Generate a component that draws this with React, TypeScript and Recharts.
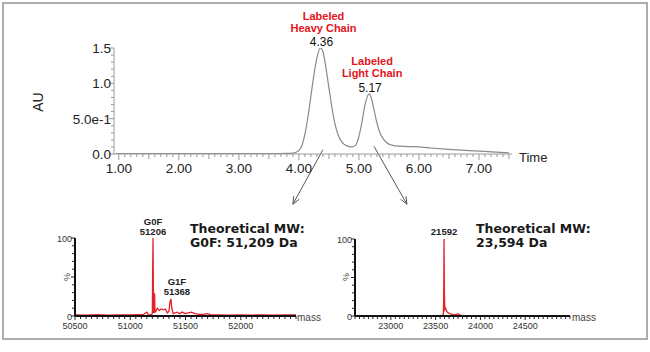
import React from 'react';
import { LineChart, Line, XAxis, YAxis, ReferenceDot, ReferenceLine } from 'recharts';

// ---- Chromatogram (UV, AU vs Time) ----
const retentionTime = [0.95, 1.5, 2.0, 2.5, 3.0, 3.5, 3.8, 3.9, 3.95, 4.0, 4.05, 4.1, 4.15, 4.2, 4.25, 4.3, 4.36, 4.4, 4.45, 4.5, 4.55, 4.6, 4.65, 4.7, 4.75, 4.8, 4.88, 4.95, 5.0, 5.05, 5.1, 5.17, 5.2, 5.25, 5.3, 5.35, 5.4, 5.45, 5.5, 5.55, 5.6, 5.8, 6.0, 6.2, 6.5, 7.0, 7.5];
const absorbance = [0.005, 0.004, 0.004, 0.004, 0.004, 0.005, 0.008, 0.012, 0.025, 0.05, 0.12, 0.28, 0.52, 0.82, 1.12, 1.36, 1.5, 1.45, 1.22, 0.94, 0.66, 0.43, 0.28, 0.19, 0.14, 0.115, 0.1, 0.13, 0.25, 0.45, 0.69, 0.85, 0.81, 0.63, 0.44, 0.3, 0.22, 0.17, 0.14, 0.125, 0.115, 0.105, 0.1, 0.085, 0.065, 0.04, 0.015];

const timeLabels: Record<string, string> = { '1': '1.00', '2': '2.00', '3': '3.00', '4': '4.00', '5': '5.00', '6': '6.00', '7': '7.00' };
const auLabels: Record<string, string> = { '0': '0.0', '0.5': '5.0e-1', '1': '1.0', '1.5': '1.5' };

const peakAnnotations = [
  { t: 4.36, au: 1.5, line1: 'Labeled', line2: 'Heavy Chain', rt: '4.36' },
  { t: 5.17, au: 0.85, line1: 'Labeled', line2: 'Light Chain', rt: '5.17' },
];

// ---- Heavy chain deconvoluted spectrum ----
const heavyMass = [50500, 50600, 50700, 50800, 50900, 51000, 51080, 51120, 51150, 51165, 51185, 51200, 51203, 51206, 51209, 51212, 51216, 51220, 51224, 51232, 51245, 51262, 51280, 51300, 51318, 51335, 51350, 51360, 51368, 51376, 51388, 51405, 51425, 51445, 51470, 51495, 51525, 51555, 51585, 51620, 51660, 51700, 51730, 51800, 51900, 52000, 52100, 52200, 52300, 52400, 52500];
const heavyPct = [1.5, 1.2, 1.6, 1.2, 1.5, 1.3, 1.8, 2, 5, 1.5, 1.5, 3, 60, 100, 40, 4, 10, 29, 5, 6, 10, 7, 9, 8, 9, 4, 6, 18, 22, 10, 3, 4, 5, 3, 5, 3, 4, 5, 3, 2, 2, 3, 1.5, 1.5, 1.2, 1.5, 1.2, 1.5, 1.2, 1.5, 1.3];
const heavyMassLabels: Record<string, string> = { '50500': '50500', '51000': '51000', '51500': '51500', '52000': '52000' };

// ---- Light chain deconvoluted spectrum ----
const lightMass = [22600, 22800, 23000, 23200, 23400, 23550, 23585, 23590, 23594, 23598, 23603, 23612, 23625, 23640, 23660, 23690, 23720, 23750, 23775, 23800, 24000, 24200, 24500, 24800, 25000];
const lightPct = [0.3, 0.4, 0.3, 0.5, 0.4, 0.6, 1, 20, 100, 30, 8, 10, 6, 4, 3, 2, 1.5, 3, 1, 0.5, 0.4, 0.3, 0.4, 0.3, 0.3];
const lightMassLabels: Record<string, string> = { '23000': '23000', '23500': '23500', '24000': '24000', '24500': '24500' };

const pctLabels: Record<string, string> = { '0': '0', '100': '100' };

const chromData = retentionTime.map((t, i) => ({ t, au: absorbance[i] }));
const heavyData = heavyMass.map((m, i) => ({ m, p: heavyPct[i] }));
const lightData = lightMass.map((m, i) => ({ m, p: lightPct[i] }));

const range = (a: number, b: number, step: number) => {
  const out: number[] = [];
  for (let v = a; v <= b + 1e-9; v += step) out.push(Math.round(v * 1000) / 1000);
  return out;
};
const timeTicks = range(1.0, 7.5, 0.1);
const auTicks = range(0, 1.5, 0.1);
const pctTicks = range(0, 100, 10);
const heavyTicks = range(50500, 52500, 50);
const lightTicks = range(22600, 25000, 50);

const ARIAL = '"Liberation Sans", Arial, sans-serif';
const VERDANA = '"DejaVu Sans", Verdana, sans-serif';
const AXIS_GRAY = '#9a9a9a';
const RED = '#e3141c';
const SPEC_RED = '#e42329';

const key = (v: number) => String(Math.round(v * 1000) / 1000);

const TimeTick = (props: any) => {
  const { x, y, payload } = props;
  const v = payload.value as number;
  const lab = timeLabels[key(v)];
  const half = Math.abs(v * 2 - Math.round(v * 2)) < 1e-6;
  const len = lab ? 6 : half ? 5 : 3;
  return (
    <g>
      <line x1={x} x2={x} y1={y} y2={y + len} stroke={AXIS_GRAY} strokeWidth={1} />
      {lab && (
        <text x={x} y={y + 19} textAnchor="middle" fontSize={13.5} fontFamily={ARIAL} fill="#222">{lab}</text>
      )}
    </g>
  );
};

const AuTick = (props: any) => {
  const { x, y, payload } = props;
  const v = payload.value as number;
  const lab = auLabels[key(v)];
  const len = lab ? 5 : 3;
  return (
    <g>
      <line x1={x} x2={x - len} y1={y} y2={y} stroke={AXIS_GRAY} strokeWidth={1} />
      {lab && (
        <text x={x - 3} y={y + 5} textAnchor="end" fontSize={13.5} fontFamily={ARIAL} fill="#222">{lab}</text>
      )}
    </g>
  );
};

const makeMassTick = (labels: Record<string, string>) => (props: any) => {
  const { x, y, payload } = props;
  const v = payload.value as number;
  const lab = labels[key(v)];
  const len = lab ? 4 : 3;
  return (
    <g>
      <line x1={x} x2={x} y1={y} y2={y + len} stroke="#222" strokeWidth={1} />
      {lab && (
        <text x={x} y={y + 13} textAnchor="middle" fontSize={9} fontFamily={ARIAL} fill="#333">{lab}</text>
      )}
    </g>
  );
};

const PctTick = (props: any) => {
  const { x, y, payload } = props;
  const v = payload.value as number;
  const lab = pctLabels[key(v)];
  const len = lab || v === 50 ? 4 : 3;
  return (
    <g>
      <line x1={x} x2={x - len} y1={y} y2={y} stroke="#222" strokeWidth={1} />
      {lab && (
        <text x={x - 3} y={y + 3.5} textAnchor="end" fontSize={9} fontFamily={ARIAL} fill="#333">{lab}</text>
      )}
    </g>
  );
};

const Arrow = (props: any) => {
  const { x1, y1, x2, y2 } = props;
  const ang = Math.atan2(y2 - y1, x2 - x1);
  const L = 8;
  const s = 0.4;
  const ax = x2 - L * Math.cos(ang - s);
  const ay = y2 - L * Math.sin(ang - s);
  const bx = x2 - L * Math.cos(ang + s);
  const by = y2 - L * Math.sin(ang + s);
  return (
    <g>
      <line x1={x1} y1={y1} x2={x2} y2={y2} stroke="#555" strokeWidth={1} />
      <polyline points={`${ax},${ay} ${x2},${y2} ${bx},${by}`} fill="none" stroke="#555" strokeWidth={1} />
    </g>
  );
};

const PeakLabel = (ann: typeof peakAnnotations[number], offs: number[]) => (props: any) => {
  const { cx, cy } = props;
  return (
    <g>
      <text x={cx + 3} y={cy + offs[0]} textAnchor="middle" fontSize={11} fontWeight="bold" fontFamily={ARIAL} fill={RED}>{ann.line1}</text>
      <text x={cx + 3} y={cy + offs[1]} textAnchor="middle" fontSize={11} fontWeight="bold" fontFamily={ARIAL} fill={RED}>{ann.line2}</text>
      <text x={cx + 1} y={cy + offs[2]} textAnchor="middle" fontSize={12} fontFamily={ARIAL} fill="#111">{ann.rt}</text>
    </g>
  );
};

const SpecLabel = (lines: string[], dx: number, offs: number[]) => (props: any) => {
  const { cx, cy } = props;
  return (
    <g>
      {lines.map((l, i) => (
        <text key={i} x={cx + dx} y={cy + offs[i]} textAnchor="middle" fontSize={9.5} fontWeight="bold" fontFamily={ARIAL} fill="#222">{l}</text>
      ))}
    </g>
  );
};

export default function App() {
  return (
    <div style={{ position: 'absolute', left: 0, top: 0, width: 650, height: 352, background: '#fff', overflow: 'hidden' }}>
      <div style={{ position: 'absolute', left: 2, top: 2, width: 646, height: 338, boxSizing: 'border-box', border: '2px solid #adadad' }} />

      {/* Main chromatogram */}
      <div style={{ position: 'absolute', left: 0, top: 0 }}>
        <LineChart width={650} height={352} data={chromData} margin={{ top: 48, right: 138, bottom: 168, left: 0 }}>
          <XAxis type="number" dataKey="t" domain={[0.92, 7.55]} ticks={timeTicks} interval={0} tick={(p: any) => <TimeTick {...p} />} tickSize={0} tickMargin={0} tickLine={false} axisLine={{ stroke: AXIS_GRAY, strokeWidth: 1 }} height={30} allowDataOverflow />
          <YAxis type="number" domain={[0, 1.5]} ticks={auTicks} interval={0} tick={(p: any) => <AuTick {...p} />} tickSize={0} tickMargin={0} tickLine={false} axisLine={{ stroke: AXIS_GRAY, strokeWidth: 1 }} width={114} allowDataOverflow />
          <Line type="monotone" dataKey="au" stroke="#8a8a8a" strokeWidth={1.2} dot={false} isAnimationActive={false} />
          <ReferenceDot x={peakAnnotations[0].t} y={peakAnnotations[0].au} ifOverflow="visible" shape={PeakLabel(peakAnnotations[0], [-28, -16, -2.5])} />
          <ReferenceDot x={peakAnnotations[1].t} y={peakAnnotations[1].au} ifOverflow="visible" shape={PeakLabel(peakAnnotations[1], [-28.5, -16.5, -1.5])} />
          <ReferenceLine segment={[{ x: 4.4, y: 0.06 }, { x: 3.9, y: -0.71 }]} ifOverflow="visible" shape={Arrow} />
          <ReferenceLine segment={[{ x: 5.25, y: 0.11 }, { x: 5.8, y: -0.71 }]} ifOverflow="visible" shape={Arrow} />
        </LineChart>
      </div>

      {/* Heavy chain spectrum */}
      <div style={{ position: 'absolute', left: 0, top: 200 }}>
        <LineChart width={330} height={140} data={heavyData} margin={{ top: 38, right: 34, bottom: 4, left: 0 }}>
          <XAxis type="number" dataKey="m" domain={[50500, 52500]} ticks={heavyTicks} interval={0} tick={makeMassTick(heavyMassLabels)} tickSize={0} tickMargin={0} tickLine={false} axisLine={{ stroke: '#111', strokeWidth: 2 }} height={20} allowDataOverflow />
          <YAxis type="number" domain={[0, 100]} ticks={pctTicks} interval={0} tick={(p: any) => <PctTick {...p} />} tickSize={0} tickMargin={0} tickLine={false} axisLine={{ stroke: '#111', strokeWidth: 2 }} width={75} allowDataOverflow />
          <Line type="linear" dataKey="p" stroke={SPEC_RED} strokeWidth={1.3} dot={false} isAnimationActive={false} />
          <ReferenceDot x={51206} y={100} ifOverflow="visible" shape={SpecLabel(['G0F', '51206'], 0, [-13, -3])} />
          <ReferenceDot x={51368} y={22} ifOverflow="visible" shape={SpecLabel(['G1F', '51368'], 6, [-14, -3.5])} />
        </LineChart>
      </div>

      {/* Light chain spectrum */}
      <div style={{ position: 'absolute', left: 300, top: 200 }}>
        <LineChart width={300} height={140} data={lightData} margin={{ top: 39, right: 30, bottom: 4, left: 0 }}>
          <XAxis type="number" dataKey="m" domain={[22600, 25000]} ticks={lightTicks} interval={0} tick={makeMassTick(lightMassLabels)} tickSize={0} tickMargin={0} tickLine={false} axisLine={{ stroke: '#111', strokeWidth: 2 }} height={20} allowDataOverflow />
          <YAxis type="number" domain={[0, 100]} ticks={pctTicks} interval={0} tick={(p: any) => <PctTick {...p} />} tickSize={0} tickMargin={0} tickLine={false} axisLine={{ stroke: '#111', strokeWidth: 2 }} width={55} allowDataOverflow />
          <Line type="linear" dataKey="p" stroke={SPEC_RED} strokeWidth={1.3} dot={false} isAnimationActive={false} />
          <ReferenceDot x={23594} y={100} ifOverflow="visible" shape={SpecLabel(['21592'], 0, [-4])} />
        </LineChart>
      </div>

      {/* Axis titles and notes */}
      <svg width={650} height={352} style={{ position: 'absolute', left: 0, top: 0, pointerEvents: 'none' }}>
        <text transform="translate(43,102) rotate(-90)" textAnchor="middle" fontSize={14} fontFamily={ARIAL} fill="#222">AU</text>
        <text x={519} y={162} fontSize={13} fontFamily={ARIAL} fill="#222">Time</text>
        <text x={297} y={321} fontSize={10} fontFamily={ARIAL} fill="#444">mass</text>
        <text x={572} y={321} fontSize={10} fontFamily={ARIAL} fill="#444">mass</text>
        <text transform="translate(70,277) rotate(-90)" textAnchor="middle" fontSize={9} fontFamily={ARIAL} fill="#444">%</text>
        <text transform="translate(349,277) rotate(-90)" textAnchor="middle" fontSize={9} fontFamily={ARIAL} fill="#444">%</text>
        <text x={190} y={233} fontSize={12.5} fontWeight="bold" fontFamily={VERDANA} fill="#1a1a1a">Theoretical MW:</text>
        <text x={190} y={247} fontSize={12.5} fontWeight="bold" fontFamily={VERDANA} fill="#1a1a1a">G0F: 51,209 Da</text>
        <text x={476} y={233} fontSize={12.5} fontWeight="bold" fontFamily={VERDANA} fill="#1a1a1a">Theoretical MW:</text>
        <text x={476} y={247} fontSize={12.5} fontWeight="bold" fontFamily={VERDANA} fill="#1a1a1a">23,594 Da</text>
      </svg>
    </div>
  );
}
